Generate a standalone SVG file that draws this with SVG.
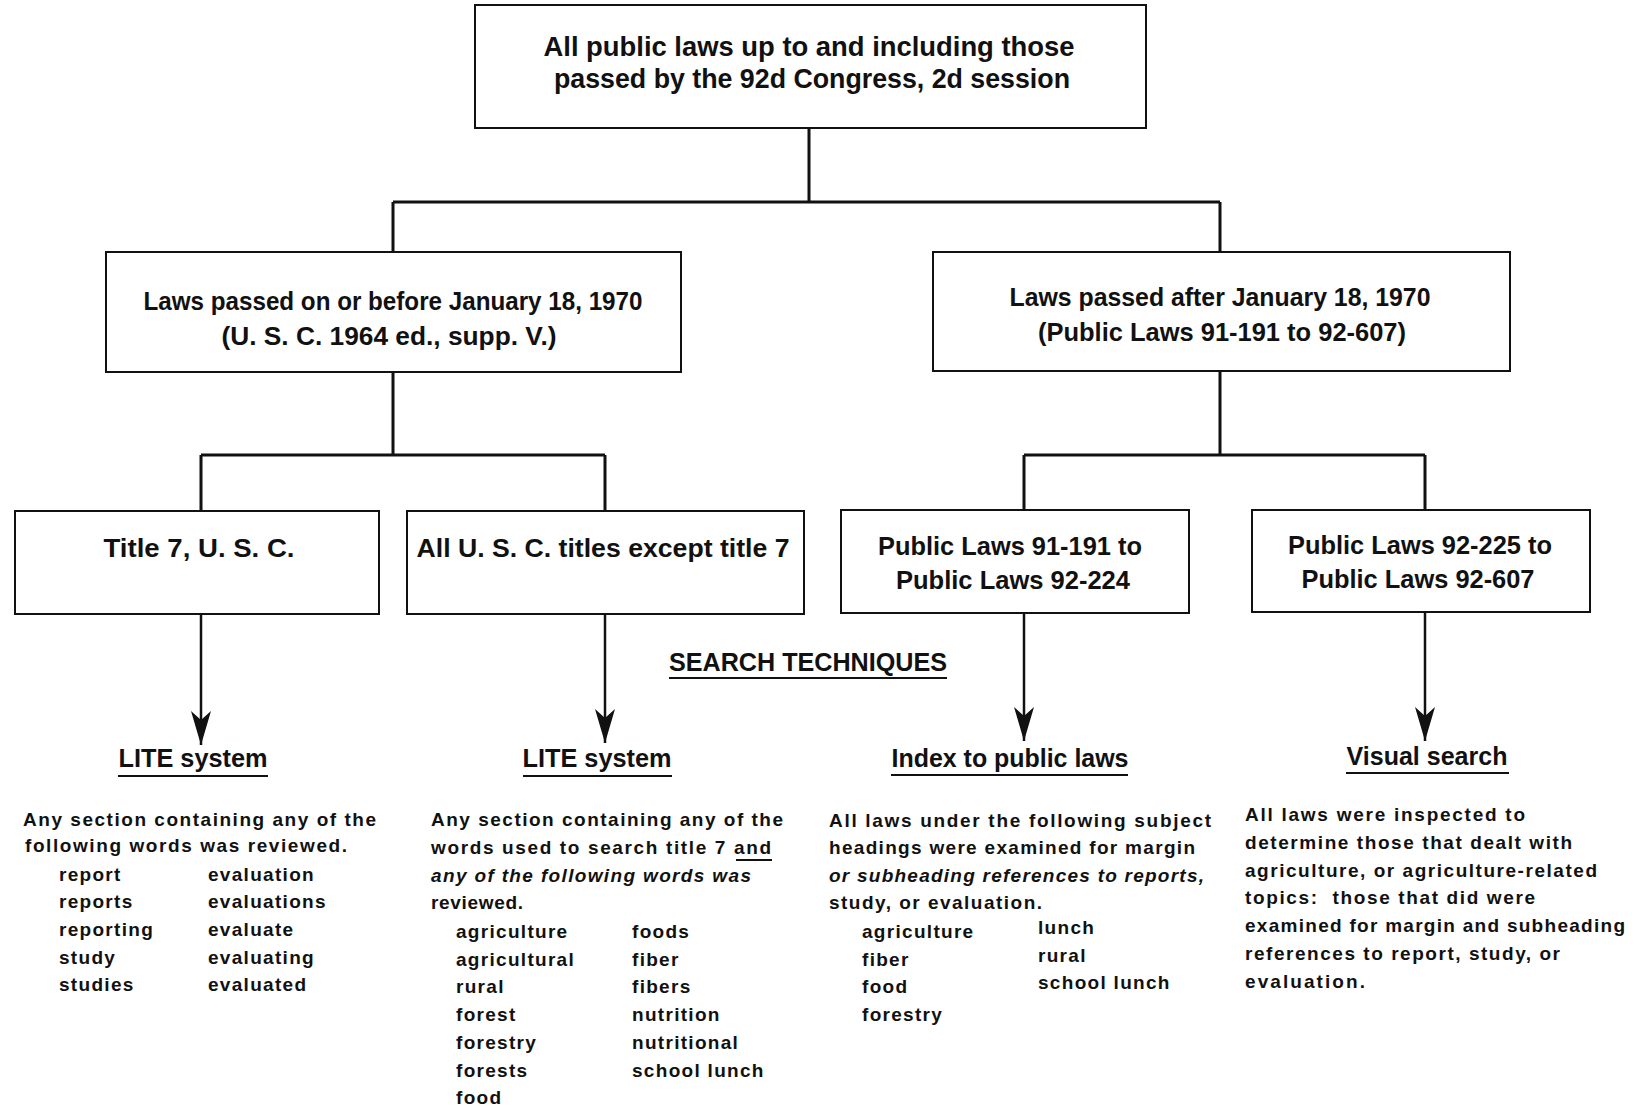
<svg xmlns="http://www.w3.org/2000/svg" width="1645" height="1110" viewBox="0 0 1645 1110">
<style>
.box{fill:#fff;stroke:#111;stroke-width:2}
.conn{fill:none;stroke:#111;stroke-width:3}
.shaft{fill:none;stroke:#111;stroke-width:2.5}
.ul{stroke:#111;stroke-width:2}
.bt{font-family:"Liberation Sans Narrow","Liberation Sans",Arial,sans-serif;font-weight:bold;fill:#111;text-anchor:middle}
.hd{font-family:"Liberation Sans",Arial,sans-serif;font-weight:bold;font-size:25px;fill:#111;text-anchor:middle}
.tx{font-family:"Liberation Sans",Arial,sans-serif;font-weight:bold;font-size:19px;fill:#111;white-space:pre}
.wd{font-family:"Liberation Sans",Arial,sans-serif;font-weight:bold;font-size:19px;fill:#111;letter-spacing:1.3px}
.it{font-style:italic}
</style>
<defs>
<marker id="arr" viewBox="-36 -12 38 24" refX="0" refY="0" markerWidth="38" markerHeight="24" markerUnits="userSpaceOnUse" orient="auto">
<path d="M0,0 L-34,-10 L-25,0 L-34,10 Z" fill="#111"/>
</marker>
</defs>
<rect width="1645" height="1110" fill="#fff"/>

<g id="connectors">
<path class="conn" d="M809,128 V202 M393,202 H1220 M393,202 V252 M1220,202 V252"/>
<path class="conn" d="M393,372 V455 M201,455 H605 M201,455 V511 M605,455 V511"/>
<path class="conn" d="M1220,371 V455 M1024,455 H1425 M1024,455 V510 M1425,455 V510"/>
<line class="shaft" x1="201" y1="614" x2="201" y2="745" marker-end="url(#arr)"/>
<line class="shaft" x1="605" y1="614" x2="605" y2="743" marker-end="url(#arr)"/>
<line class="shaft" x1="1024" y1="613" x2="1024" y2="741" marker-end="url(#arr)"/>
<line class="shaft" x1="1425" y1="612" x2="1425" y2="741" marker-end="url(#arr)"/>
</g>

<g id="n-all">
<rect class="box" x="475" y="5" width="671" height="123"/>
<text class="bt" font-size="28" x="809" y="56" textLength="531" lengthAdjust="spacingAndGlyphs">All public laws up to and including those</text>
<text class="bt" font-size="28" x="812" y="88" textLength="516" lengthAdjust="spacingAndGlyphs">passed by the 92d Congress, 2d session</text>
</g>

<g id="n-before">
<rect class="box" x="106" y="252" width="575" height="120"/>
<text class="bt" font-size="25" x="393" y="310" textLength="499" lengthAdjust="spacingAndGlyphs">Laws passed on or before January 18, 1970</text>
<text class="bt" font-size="25" x="389" y="345" textLength="335" lengthAdjust="spacingAndGlyphs">(U. S. C. 1964 ed., supp. V.)</text>
</g>

<g id="n-after">
<rect class="box" x="933" y="252" width="577" height="119"/>
<text class="bt" font-size="25" x="1220" y="306" textLength="421" lengthAdjust="spacingAndGlyphs">Laws passed after January 18, 1970</text>
<text class="bt" font-size="25" x="1222" y="341" textLength="368" lengthAdjust="spacingAndGlyphs">(Public Laws 91-191 to 92-607)</text>
</g>

<g id="n-title7">
<rect class="box" x="15" y="511" width="364" height="103"/>
<text class="bt" font-size="25" x="199" y="557" textLength="191" lengthAdjust="spacingAndGlyphs">Title 7, U. S. C.</text>
</g>

<g id="n-alltitles">
<rect class="box" x="407" y="511" width="397" height="103"/>
<text class="bt" font-size="25" x="603" y="557" textLength="373" lengthAdjust="spacingAndGlyphs">All U. S. C. titles except title 7</text>
</g>

<g id="n-pl1">
<rect class="box" x="841" y="510" width="348" height="103"/>
<text class="bt" font-size="25" x="1010" y="555" textLength="264" lengthAdjust="spacingAndGlyphs">Public Laws 91-191 to</text>
<text class="bt" font-size="25" x="1013" y="589" textLength="234" lengthAdjust="spacingAndGlyphs">Public Laws 92-224</text>
</g>

<g id="n-pl2">
<rect class="box" x="1252" y="510" width="338" height="102"/>
<text class="bt" font-size="25" x="1420" y="554" textLength="264" lengthAdjust="spacingAndGlyphs">Public Laws 92-225 to</text>
<text class="bt" font-size="25" x="1418" y="588" textLength="233" lengthAdjust="spacingAndGlyphs">Public Laws 92-607</text>
</g>

<g id="search-techniques">
<text class="hd" x="808" y="671" textLength="278" lengthAdjust="spacingAndGlyphs">SEARCH TECHNIQUES</text>
<line class="ul" x1="669" y1="678" x2="947" y2="678"/>
</g>

<g id="t-lite1">
<text class="hd" x="193" y="767" textLength="149" lengthAdjust="spacingAndGlyphs">LITE system</text>
<line class="ul" x1="118" y1="776" x2="268" y2="776"/>
<text class="tx" x="23" y="826" textLength="353">Any section containing any of the</text>
<text class="tx" x="25" y="852" textLength="322">following words was reviewed.</text>
<text class="wd" x="59" y="881">report</text>
<text class="wd" x="59" y="908">reports</text>
<text class="wd" x="59" y="936">reporting</text>
<text class="wd" x="59" y="964">study</text>
<text class="wd" x="59" y="991">studies</text>
<text class="wd" x="208" y="881">evaluation</text>
<text class="wd" x="208" y="908">evaluations</text>
<text class="wd" x="208" y="936">evaluate</text>
<text class="wd" x="208" y="964">evaluating</text>
<text class="wd" x="208" y="991">evaluated</text>
</g>

<g id="t-lite2">
<text class="hd" x="597" y="767" textLength="149" lengthAdjust="spacingAndGlyphs">LITE system</text>
<line class="ul" x1="523" y1="776" x2="672" y2="776"/>
<text class="tx" x="431" y="826" textLength="352">Any section containing any of the</text>
<text class="tx" x="431" y="854" textLength="340">words used to search title 7 and</text>
<line class="ul" x1="736" y1="860" x2="772" y2="860"/>
<text class="tx it" x="431" y="882" textLength="320">any of the following words was</text>
<text class="tx" x="431" y="909" textLength="92">reviewed.</text>
<text class="wd" x="456" y="938">agriculture</text>
<text class="wd" x="456" y="966">agricultural</text>
<text class="wd" x="456" y="993">rural</text>
<text class="wd" x="456" y="1021">forest</text>
<text class="wd" x="456" y="1049">forestry</text>
<text class="wd" x="456" y="1077">forests</text>
<text class="wd" x="456" y="1104">food</text>
<text class="wd" x="632" y="938">foods</text>
<text class="wd" x="632" y="966">fiber</text>
<text class="wd" x="632" y="993">fibers</text>
<text class="wd" x="632" y="1021">nutrition</text>
<text class="wd" x="632" y="1049">nutritional</text>
<text class="wd" x="632" y="1077">school lunch</text>
</g>

<g id="t-index">
<text class="hd" x="1010" y="767" textLength="237" lengthAdjust="spacingAndGlyphs">Index to public laws</text>
<line class="ul" x1="891" y1="775" x2="1128" y2="775"/>
<text class="tx" x="829" y="827" textLength="382">All laws under the following subject</text>
<text class="tx" x="829" y="854" textLength="366">headings were examined for margin</text>
<text class="tx it" x="829" y="882" textLength="375">or subheading references to reports,</text>
<text class="tx" x="829" y="909" textLength="213">study, or evaluation.</text>
<text class="wd" x="862" y="938">agriculture</text>
<text class="wd" x="862" y="966">fiber</text>
<text class="wd" x="862" y="993">food</text>
<text class="wd" x="862" y="1021">forestry</text>
<text class="wd" x="1038" y="934">lunch</text>
<text class="wd" x="1038" y="962">rural</text>
<text class="wd" x="1038" y="989">school lunch</text>
</g>

<g id="t-visual">
<text class="hd" x="1427" y="765" textLength="161" lengthAdjust="spacingAndGlyphs">Visual search</text>
<line class="ul" x1="1346" y1="773" x2="1509" y2="773"/>
<text class="tx" x="1245" y="821" textLength="280">All laws were inspected to</text>
<text class="tx" x="1245" y="849" textLength="327">determine those that dealt with</text>
<text class="tx" x="1245" y="877" textLength="352">agriculture, or agriculture-related</text>
<text class="tx" x="1245" y="904" textLength="290">topics:  those that did were</text>
<text class="tx" x="1245" y="932" textLength="380">examined for margin and subheading</text>
<text class="tx" x="1245" y="960" textLength="315">references to report, study, or</text>
<text class="tx" x="1245" y="988" textLength="120">evaluation.</text>
</g>
</svg>
